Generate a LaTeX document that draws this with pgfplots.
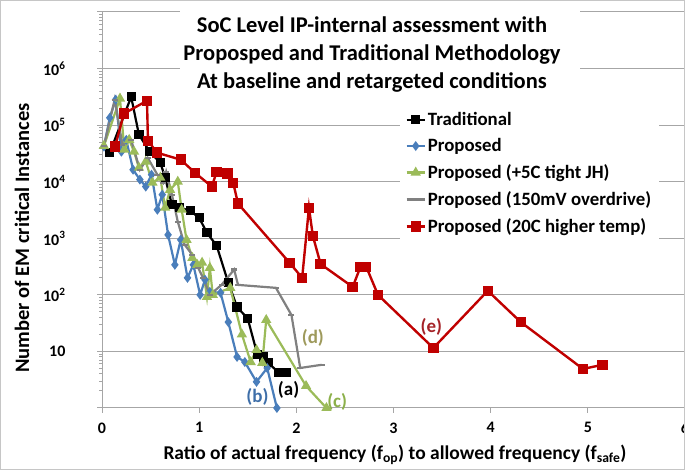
\documentclass[border=0pt]{standalone}
\usepackage{fontspec}
\setmainfont{Carlito}
\usepackage{pgfplots}
\pgfplotsset{compat=1.18}
\definecolor{cTrad}{RGB}{0,0,0}
\definecolor{cProp}{RGB}{74,126,187}
\definecolor{cGreen}{RGB}{155,187,89}
\definecolor{cGrey}{RGB}{128,128,128}
\definecolor{cRed}{RGB}{192,0,0}
\definecolor{gridc}{RGB}{166,166,166}
\definecolor{labB}{RGB}{62,110,168}
\definecolor{labC}{RGB}{140,176,74}
\definecolor{labD}{RGB}{158,154,92}
\definecolor{labE}{RGB}{165,35,40}
\begin{document}
\begin{tikzpicture}[x=1pt,y=1pt]
\path[use as bounding box] (0,0) rectangle (685,470);
\begin{axis}[
  at={(102pt,62pt)}, anchor=south west,
  scale only axis, width=583pt, height=396pt,
  xmin=0, xmax=6, ymode=log, ymin=1, ymax=1e7,
  axis x line*=bottom, axis y line*=left,
  axis line style={gridc, line width=1pt},
  xtick={0,1,2,3,4,5,6},
  ytick={1,10,100,1000,10000,100000,1000000,10000000},
  yticklabels={{},10,10\textsuperscript{2},10\textsuperscript{3},10\textsuperscript{4},10\textsuperscript{5},10\textsuperscript{6},{}},
  /pgf/number format/assume math mode=true,
  tick label style={font=\bfseries\fontsize{16}{19}\selectfont},
  yticklabel style={xshift=-28pt},
  xticklabel style={yshift=-6pt},
  tick align=outside, major tick length=5pt,
  tick style={gridc, line width=1pt},
  ymajorgrids, grid style={gridc, line width=1pt},
  legend style={at={(0.51,0.762)}, anchor=north west, draw=none, fill=white,
    font=\bfseries\fontsize{18.8}{22}\selectfont, legend cell align=left,
    row sep=7.5pt, inner xsep=6pt, inner ysep=4pt},
  legend image code/.code={\draw[mark repeat=2,mark phase=2] plot coordinates {(0pt,0pt) (9pt,0pt) (18pt,0pt)};},
  clip=false,
]
\addplot[cTrad, line width=2.2pt, mark=square*, mark size=3.5pt, mark options={solid}] coordinates {
(0.08,32500) (0.30,317000) (0.38,68000) (0.49,34000) (0.60,21700) (0.65,11800)
(0.72,3900) (0.80,3500) (0.91,3050) (1.00,2300) (1.08,1250) (1.18,740)
(1.30,163) (1.39,61) (1.50,38) (1.60,8.7) (1.66,8) (1.71,6.3) (1.82,4.2) (1.90,4.2)
};
\addlegendentry{Traditional}
\addplot[cProp, line width=2.2pt, mark=diamond*, mark size=3.2pt] coordinates {
(0.02,41700) (0.08,135000) (0.14,282000) (0.20,34000) (0.25,55000) (0.32,16300)
(0.39,10900) (0.45,8200) (0.51,13300) (0.57,3200) (0.62,5900) (0.68,1150)
(0.75,340) (0.81,940) (0.88,200) (0.94,340) (1.01,100) (1.06,185) (1.11,113)
(1.22,109) (1.30,33) (1.39,8) (1.47,6.5) (1.59,2.9) (1.70,5.1) (1.80,1.0)
};
\addlegendentry{Proposed}
\addplot[cGreen, line width=2.2pt, mark=triangle*, mark size=3.8pt] coordinates {
(0.02,43000) (0.185,295000) (0.23,37000) (0.28,55000) (0.33,34000) (0.38,17700)
(0.45,22600) (0.52,9600) (0.60,11800) (0.65,3470) (0.70,7200) (0.78,10000)
(0.82,3200) (0.87,940) (0.93,450) (0.98,340) (1.03,370) (1.08,92) (1.11,300)
(1.14,100) (1.32,133) (1.44,20) (1.53,6.5) (1.59,10.6) (1.65,6.3) (1.69,36)
(2.10,2.45) (2.31,1.0)
};
\addlegendentry{Proposed (+5C tight JH)}
\addplot[cGrey, line width=2.2pt, mark=-, mark size=3pt] coordinates {
(0.02,43000) (0.13,282000) (0.21,45000) (0.30,55000) (0.39,16300) (0.47,26500)
(0.57,13300) (0.63,9600) (0.66,15000) (0.72,5900) (0.78,1960) (0.85,770)
(0.93,510) (0.99,300) (1.04,200) (1.11,100) (1.23,150) (1.36,280) (1.40,150)
(1.79,133) (1.95,44) (2.04,5.1) (2.26,5.8)
};
\addlegendentry{Proposed (150mV overdrive)}
\addplot[cRed, line width=2.4pt, mark=square*, mark size=4pt] coordinates {
(0.134,41700) (0.226,160000) (0.463,270000) (0.473,53000) (0.566,32600) (0.81,24500)
(0.957,14400) (1.13,8200) (1.18,15000) (1.29,13900) (1.35,9600) (1.40,4100)
(1.93,370) (2.06,200) (2.13,3470) (2.17,1100) (2.25,350) (2.58,138) (2.66,312)
(2.72,312) (2.84,100) (3.41,11.5) (3.97,118) (4.31,33) (4.95,4.9) (5.15,5.8)
};
\addlegendentry{Proposed (20C higher temp)}
\node[font=\bfseries\fontsize{19}{22}\selectfont, text=black] at (axis cs:1.92,2.1) {(a)};
\node[font=\bfseries\fontsize{19}{22}\selectfont, text=labB] at (axis cs:1.60,1.57) {(b)};
\node[font=\bfseries\fontsize{19}{22}\selectfont, text=labC] at (axis cs:2.42,1.3) {(c)};
\node[font=\bfseries\fontsize{19}{22}\selectfont, text=labD] at (axis cs:2.17,17.3) {(d)};
\node[font=\bfseries\fontsize{19}{22}\selectfont, text=labE] at (axis cs:3.39,27) {(e)};
\end{axis}
\fill[white] (180,378) rectangle (580,466);
\node[font=\bfseries\fontsize{22.5}{28}\selectfont, align=center] at (372,415) {SoC Level IP-internal assessment with\\Proposped and Traditional Methodology\\At baseline and retargeted conditions};
\node[rotate=90, font=\bfseries\fontsize{20.5}{24}\selectfont] at (22,232) {Number of EM critical Instances};
\node[font=\bfseries\fontsize{19.5}{23}\selectfont] at (395,15) {Ratio of actual frequency (f\textsubscript{op}) to allowed frequency (f\textsubscript{safe})};
\draw[gray!45, line width=1pt] (0.5,0.5) rectangle (684.5,469.5);
\end{tikzpicture}
\end{document}
